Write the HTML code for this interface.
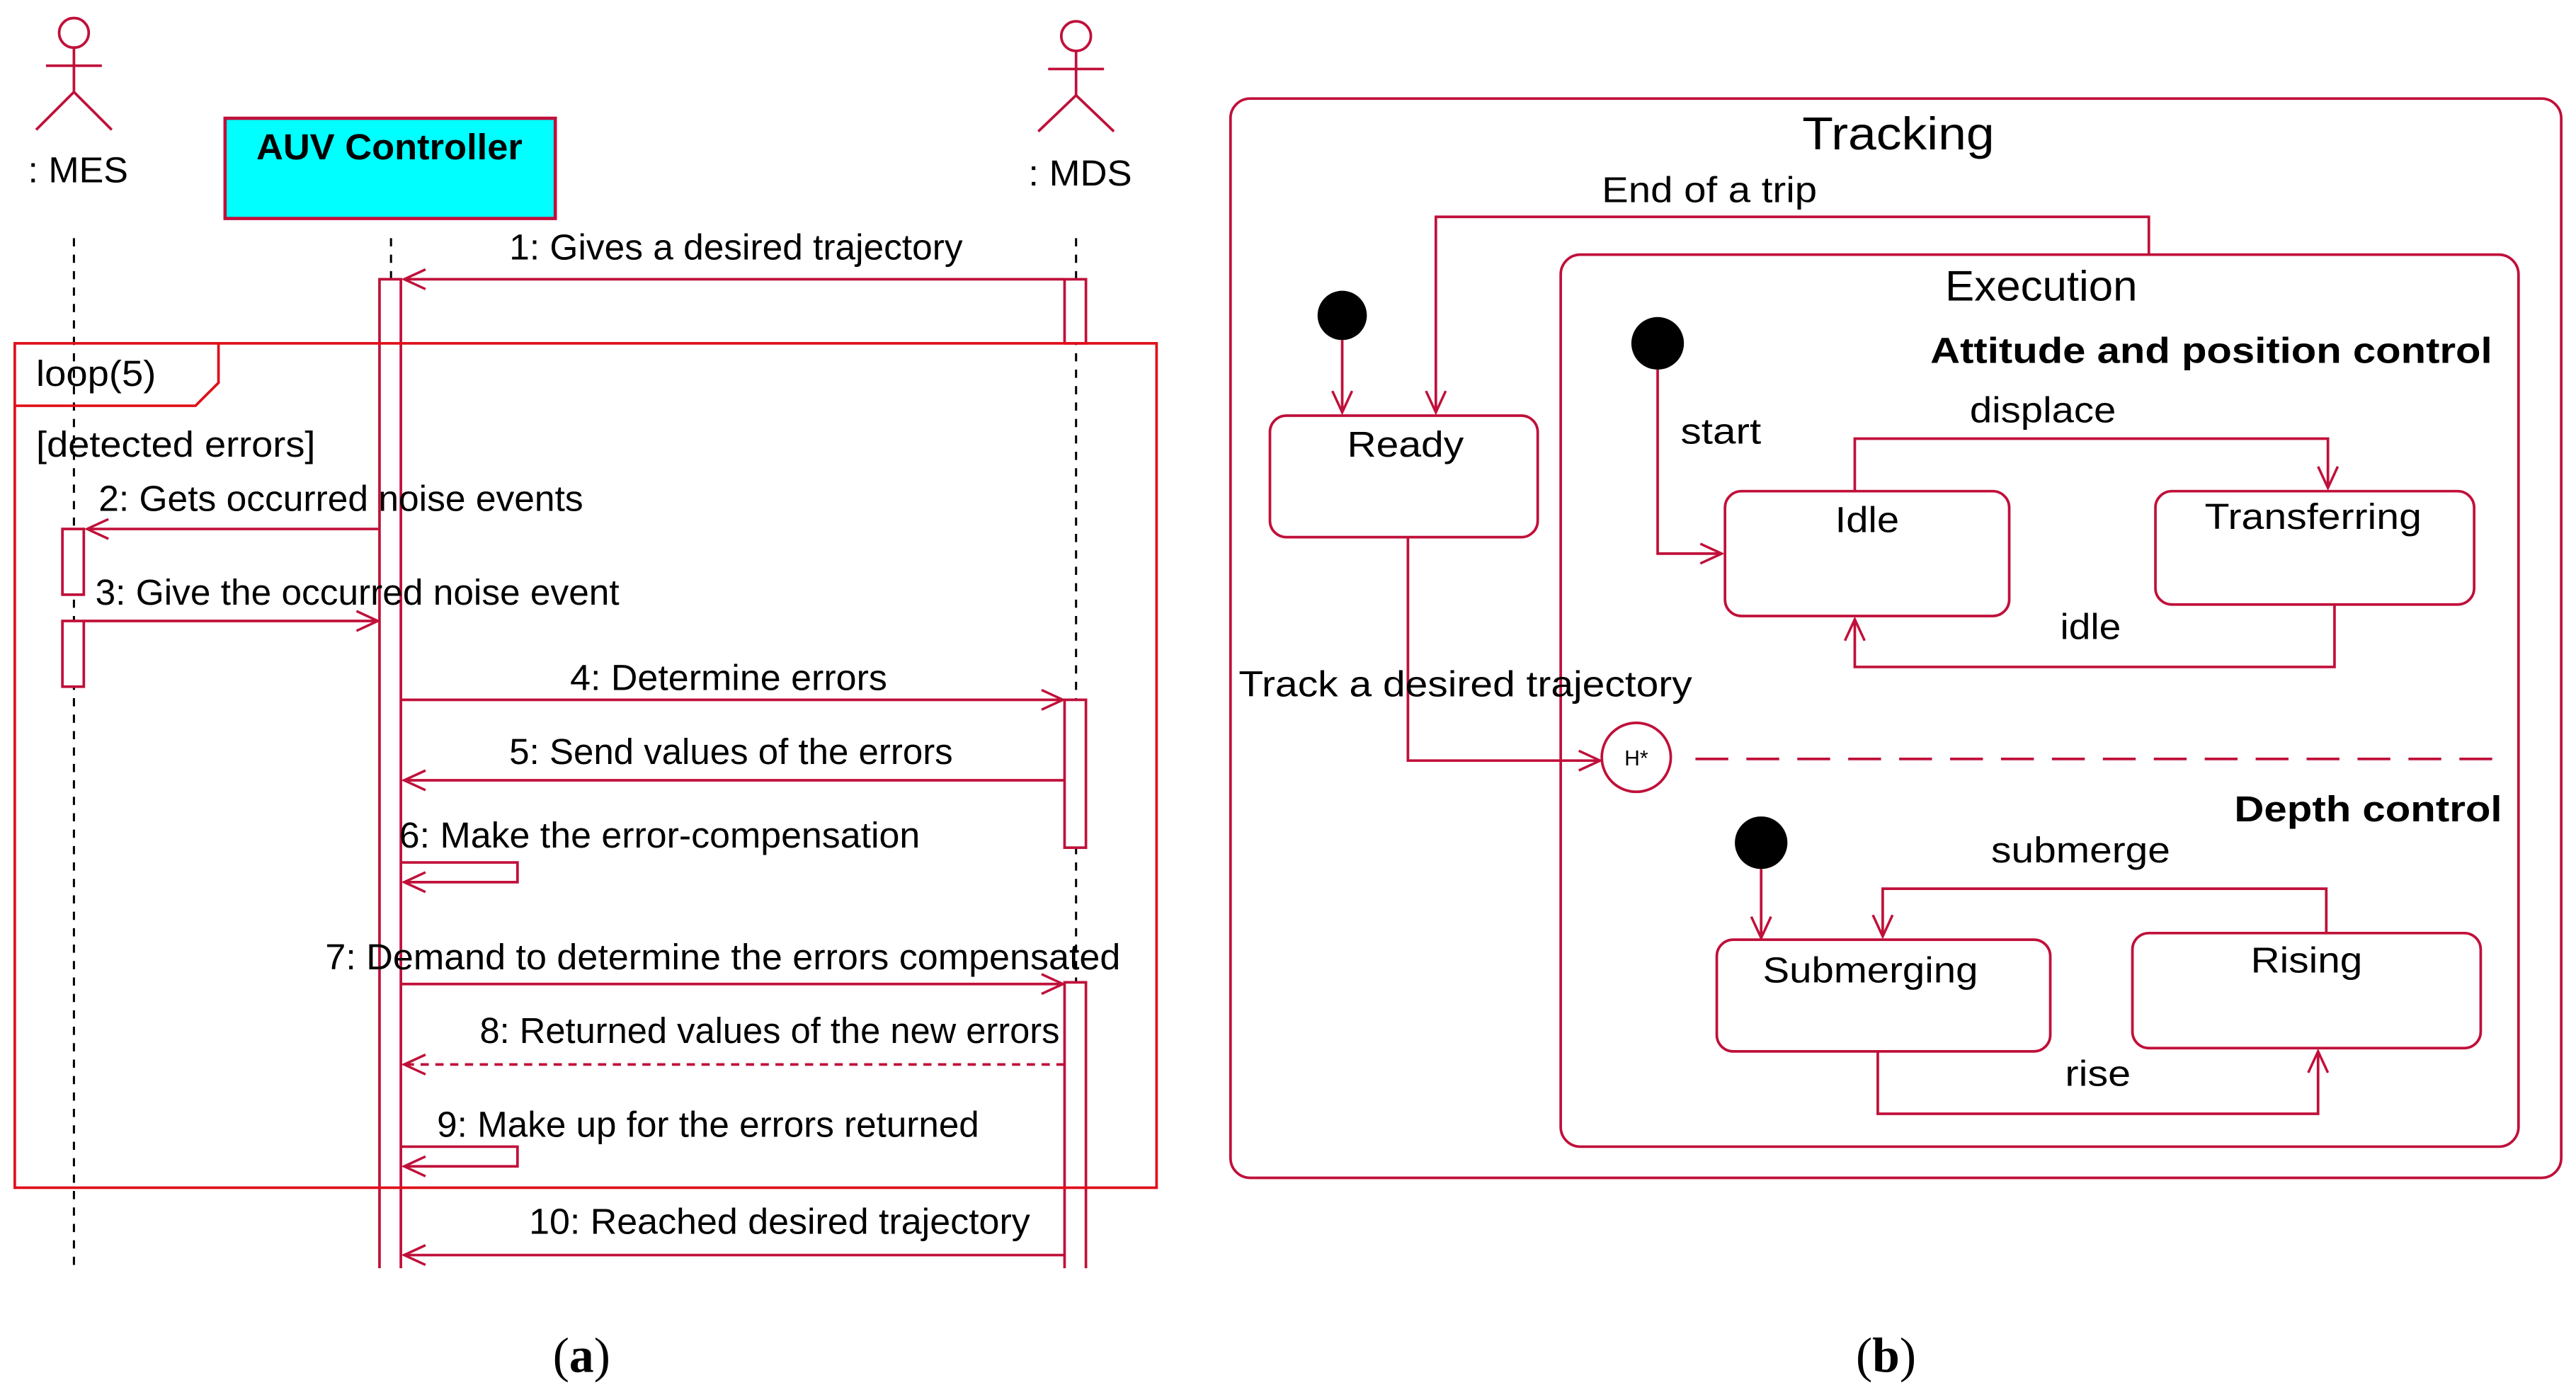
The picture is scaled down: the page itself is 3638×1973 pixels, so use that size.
<!DOCTYPE html>
<html><head><meta charset="utf-8"><style>
html,body{margin:0;padding:0;background:#fff;}
svg{display:block;}
text{font-family:"Liberation Sans",sans-serif;fill:#000;}
</style></head><body>
<svg width="3638" height="1973" viewBox="0 0 1568 850.4" preserveAspectRatio="none" xmlns="http://www.w3.org/2000/svg">
<defs>
<marker id="a" markerUnits="userSpaceOnUse" markerWidth="20" markerHeight="20" refX="14" refY="7" orient="auto">
<path d="M1,1 L14,7 L1,13" fill="none" stroke="#c0103a" stroke-width="1.5"/>
</marker>
</defs>
<g stroke="#c0103a" stroke-width="1.6" fill="none">
<circle cx="45" cy="20" r="9"/><line x1="45" y1="29" x2="45" y2="56"/><line x1="28" y1="40" x2="62" y2="40"/><line x1="45" y1="56" x2="22" y2="79"/><line x1="45" y1="56" x2="68" y2="79"/>
<circle cx="655" cy="22" r="9"/><line x1="655" y1="31" x2="655" y2="58"/><line x1="638" y1="42" x2="672" y2="42"/><line x1="655" y1="58" x2="632" y2="80"/><line x1="655" y1="58" x2="678" y2="80"/>
<rect x="137" y="72" width="201" height="61" fill="#00ffff" stroke-width="2"/>
</g>
<g stroke="#000" stroke-width="1.3" stroke-dasharray="5,5">
<line x1="45" y1="145" x2="45" y2="772"/><line x1="238" y1="145" x2="238" y2="170"/><line x1="655" y1="145" x2="655" y2="772"/>
</g>
<g stroke="#c0103a" stroke-width="1.6" fill="#fff">
<path d="M231,772 L231,170 L244,170 L244,772"/>
<rect x="648" y="170" width="13" height="39"/>
<rect x="648" y="426" width="13" height="90"/>
<path d="M648,772 L648,598 L661,598 L661,772"/>
<rect x="38" y="322" width="13" height="40"/>
<rect x="38" y="378" width="13" height="40"/>
</g>
<g stroke="#e0101a" stroke-width="1.6" fill="none">
<rect x="9" y="209" width="695" height="514"/>
<path d="M9,247 L119,247 L133,233 L133,209"/>
</g>
<g stroke="#c0103a" stroke-width="1.6" fill="none" marker-end="url(#a)">
<line x1="648" y1="170" x2="246" y2="170"/>
<line x1="231" y1="322" x2="53" y2="322"/>
<line x1="51" y1="378" x2="230" y2="378"/>
<line x1="244" y1="426" x2="647" y2="426"/>
<line x1="648" y1="475" x2="246" y2="475"/>
<path d="M244,525 L315,525 L315,537 L246,537"/>
<line x1="244" y1="599" x2="647" y2="599"/>
<line x1="648" y1="648" x2="246" y2="648" stroke-dasharray="5,4"/>
<path d="M244,698 L315,698 L315,710 L246,710"/>
<line x1="648" y1="764" x2="246" y2="764"/>
</g>
<g font-size="22" lengthAdjust="spacingAndGlyphs">
<text x="17" y="111" textLength="61" lengthAdjust="spacingAndGlyphs">: MES</text>
<text x="626" y="113" textLength="63" lengthAdjust="spacingAndGlyphs">: MDS</text>
<text x="156" y="97" font-weight="bold" textLength="162" lengthAdjust="spacingAndGlyphs">AUV Controller</text>
<text x="22" y="235" textLength="73" lengthAdjust="spacingAndGlyphs">loop(5)</text>
<text x="22" y="278" textLength="170" lengthAdjust="spacingAndGlyphs">[detected errors]</text>
<text x="310" y="158" textLength="276" lengthAdjust="spacingAndGlyphs">1: Gives a desired trajectory</text>
<text x="60" y="311" textLength="295" lengthAdjust="spacingAndGlyphs">2: Gets occurred noise events</text>
<text x="58" y="368" textLength="319" lengthAdjust="spacingAndGlyphs">3: Give the occurred noise event</text>
<text x="347" y="420" textLength="193" lengthAdjust="spacingAndGlyphs">4: Determine errors</text>
<text x="310" y="465" textLength="270" lengthAdjust="spacingAndGlyphs">5: Send values of the errors</text>
<text x="243" y="516" textLength="317" lengthAdjust="spacingAndGlyphs">6: Make the error-compensation</text>
<text x="198" y="590" textLength="484" lengthAdjust="spacingAndGlyphs">7: Demand to determine the errors compensated</text>
<text x="292" y="635" textLength="353" lengthAdjust="spacingAndGlyphs">8: Returned values of the new errors</text>
<text x="266" y="692" textLength="330" lengthAdjust="spacingAndGlyphs">9: Make up for the errors returned</text>
<text x="322" y="751" textLength="305" lengthAdjust="spacingAndGlyphs">10: Reached desired trajectory</text>
</g>
<text x="354" y="835" font-size="30" text-anchor="middle" style="font-family:'Liberation Serif',serif">(<tspan font-weight="bold">a</tspan>)</text>
<text x="1148" y="835" font-size="30" text-anchor="middle" style="font-family:'Liberation Serif',serif">(<tspan font-weight="bold">b</tspan>)</text>

<g stroke="#c0103a" stroke-width="1.6" fill="none">
<rect x="749" y="60" width="810" height="657" rx="12"/>
<rect x="950" y="155" width="583" height="543" rx="12"/>
<rect x="773" y="253" width="163" height="74" rx="10"/>
<rect x="1050" y="299" width="173" height="76" rx="10"/>
<rect x="1312" y="299" width="194" height="69" rx="10"/>
<rect x="1045" y="572" width="203" height="68" rx="10"/>
<rect x="1298" y="568" width="212" height="70" rx="10"/>
<circle cx="996" cy="461" r="21"/>
<line x1="1032" y1="462" x2="1518" y2="462" stroke-dasharray="20,11"/>
</g>
<g fill="#000"><circle cx="817" cy="192" r="15"/><circle cx="1009" cy="209" r="16"/><circle cx="1072" cy="513" r="16"/></g>
<g stroke="#c0103a" stroke-width="1.6" fill="none" marker-end="url(#a)">
<path d="M1308,155 L1308,132 L874,132 L874,251"/>
<line x1="817" y1="207" x2="817" y2="251"/>
<path d="M857,327 L857,463 L974,463"/>
<path d="M1009,225 L1009,337 L1048,337"/>
<path d="M1129,299 L1129,267 L1417,267 L1417,297"/>
<path d="M1421,368 L1421,406 L1129,406 L1129,377"/>
<line x1="1072" y1="529" x2="1072" y2="571"/>
<path d="M1416,568 L1416,541 L1146,541 L1146,570"/>
<path d="M1143,640 L1143,678 L1411,678 L1411,640"/>
</g>
<g font-size="22">
<text x="1097" y="91" font-size="28" textLength="117" lengthAdjust="spacingAndGlyphs">Tracking</text>
<text x="975" y="123" textLength="131" lengthAdjust="spacingAndGlyphs">End of a trip</text>
<text x="1184" y="183" font-size="26" textLength="117" lengthAdjust="spacingAndGlyphs">Execution</text>
<text x="1175" y="221" font-weight="bold" textLength="342" lengthAdjust="spacingAndGlyphs">Attitude and position control</text>
<text x="820" y="278" textLength="71" lengthAdjust="spacingAndGlyphs">Ready</text>
<text x="1023" y="270" textLength="49" lengthAdjust="spacingAndGlyphs">start</text>
<text x="1199" y="257" textLength="89" lengthAdjust="spacingAndGlyphs">displace</text>
<text x="1117" y="324" textLength="39" lengthAdjust="spacingAndGlyphs">Idle</text>
<text x="1342" y="322" textLength="132" lengthAdjust="spacingAndGlyphs">Transferring</text>
<text x="1254" y="389" textLength="37" lengthAdjust="spacingAndGlyphs">idle</text>
<text x="754" y="424" textLength="276" lengthAdjust="spacingAndGlyphs">Track a desired trajectory</text>
<text x="996" y="466" font-size="13" text-anchor="middle">H*</text>
<text x="1360" y="500" font-weight="bold" textLength="163" lengthAdjust="spacingAndGlyphs">Depth control</text>
<text x="1212" y="525" textLength="109" lengthAdjust="spacingAndGlyphs">submerge</text>
<text x="1073" y="598" textLength="131" lengthAdjust="spacingAndGlyphs">Submerging</text>
<text x="1370" y="592" textLength="68" lengthAdjust="spacingAndGlyphs">Rising</text>
<text x="1257" y="661" textLength="40" lengthAdjust="spacingAndGlyphs">rise</text>
</g>
</svg>
</body></html>
